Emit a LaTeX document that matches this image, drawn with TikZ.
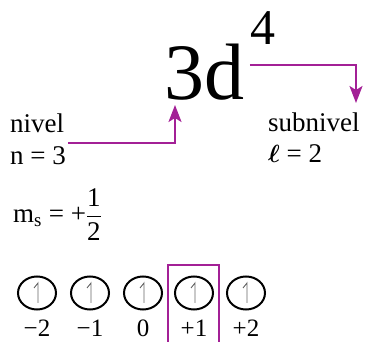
\documentclass[tikz,border=0pt]{standalone}
\usepackage{amsmath}
\usepackage{fontspec}
\setmainfont{Liberation Serif}
\usepackage{tikz}
\usetikzlibrary{arrows.meta,positioning,shapes.geometric}
\definecolor{orbmagenta}{RGB}{163,32,150}

\begin{document}
\begin{tikzpicture}[x=1pt,y=-1pt,
    lbl/.style={anchor=base west,inner sep=0pt,font=\fontsize{27}{30}\selectfont},
    link/.style={orbmagenta,line width=2pt,-{Stealth[length=17pt,width=13pt,inset=4pt]}},
    orb/.style={ellipse,draw,line width=2pt,minimum width=38pt,minimum height=33pt,inner sep=0pt,outer sep=0pt},
    mlbl/.style={anchor=base,inner sep=0pt,font=\fontsize{25}{28}\selectfont}]
        \useasboundingbox (0,0) rectangle (368,342);
        % configuration
        \node[lbl,font=\fontsize{80}{80}\selectfont] (conf) at (164,100) {3d};
        \node[lbl,font=\fontsize{50}{50}\selectfont] (expo) at (250,45) {4};
        % labels
        \node[lbl] (nivel) at (10,133) {nivel};
        \node[lbl] (neq) at (10,165) {n = 3};
        \node[lbl] (subniv) at (268,132) {subnivel};
        \node[lbl] (leq) at (268,163) {$\boldsymbol{\ell}$ = 2};
        \node[lbl] (ms) at (13,223) {m\textsubscript{s} = +$\dfrac{\text{1}}{\text{2}}$};
        % arrows
        \coordinate (nstart) at (68,143);
        \coordinate (confin) at (175,105);
        \draw[link] (nstart) -| (confin);
        \coordinate (expout) at (250,65);
        \coordinate (subin) at (356,103);
        \draw[link] (expout) -| (subin);
        % orbitals
        \foreach \i/\x/\m in {1/37/{−2},2/90/{−1},3/143/{0},4/194/{+1},5/246/{+2}} {
            \node[orb] (o\i) at (\x,293) {};
            \draw[black!60,line width=0.9pt] ([shift={(1,10)}]o\i.center) -- ++(0,-20) -- ++(-4,5);
            \node[mlbl] (m\i) at (\x,337) {\m};
        }
        % highlight
        \draw[orbmagenta,line width=1.8pt] (168,350) |- (219,265) -- (219,350);
      \end{tikzpicture}
\end{document}
